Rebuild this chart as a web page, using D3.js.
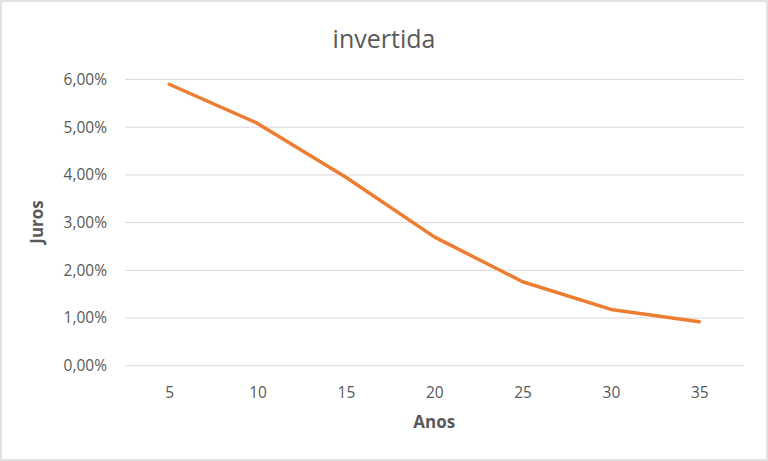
<!DOCTYPE html>
<html>
<head>
<meta charset="utf-8">
<script src="https://cdn.jsdelivr.net/npm/d3@7"></script>
<style>
  body { margin: 0; background: #fff; }
  #chart { width: 768px; height: 461px; }
  .tick text { font-family: "Open Sans", sans-serif; font-size: 15.5px; fill: #595959; }
  .axis-label { font-family: "Open Sans", sans-serif; font-size: 17px; font-weight: bold; fill: #595959; }
  .plot-title { font-family: "Open Sans", sans-serif; font-size: 25px; fill: #595959; }
</style>
</head>
<body>
<div id="chart"></div>
<script>
// data
const anos = ["5", "10", "15", "20", "25", "30", "35"];
const juros = [5.90, 5.08, 3.95, 2.70, 1.76, 1.18, 0.92];
const yTicks = [0, 1, 2, 3, 4, 5, 6];

const W = 768, H = 461;
const margin = { top: 79.5, right: 24.5, bottom: 95.3, left: 125 };
const width = W - margin.left - margin.right;
const height = H - margin.top - margin.bottom;

const root = d3.select("#chart").append("svg")
  .attr("width", W)
  .attr("height", H);

// chart border
root.append("rect")
  .attr("x", 1).attr("y", 1)
  .attr("width", W - 2).attr("height", H - 2)
  .attr("fill", "#fff")
  .attr("stroke", "#d9d9d9")
  .attr("stroke-width", 1.5);

const svg = root.append("g")
  .attr("transform", `translate(${margin.left},${margin.top})`);

const xScale = d3.scalePoint()
  .domain(anos)
  .range([0, width])
  .padding(0.5);

const yScale = d3.scaleLinear()
  .domain([0, 6])
  .range([height, 0]);

// gridlines
svg.append("g")
  .selectAll("line")
  .data(yTicks)
  .join("line")
  .attr("x1", 0)
  .attr("x2", width)
  .attr("y1", d => yScale(d))
  .attr("y2", d => yScale(d))
  .attr("stroke", "#d9d9d9")
  .attr("stroke-width", 1);

const yAxis = svg.append("g")
  .call(d3.axisLeft(yScale)
    .tickValues(yTicks)
    .tickSize(0)
    .tickPadding(18)
    .tickFormat(d => d.toFixed(2).replace(".", ",") + "%"));
yAxis.select(".domain").remove();

const xAxis = svg.append("g")
  .attr("transform", `translate(0, ${height})`)
  .call(d3.axisBottom(xScale).tickSize(0).tickPadding(21));
xAxis.select(".domain").remove();

const line = d3.line()
  .x((d, i) => xScale(anos[i]))
  .y(d => yScale(d));

svg.append("path")
  .datum(juros)
  .attr("d", line)
  .attr("fill", "none")
  .attr("stroke", "#ed7d31")
  .attr("stroke-width", 3.5)
  .attr("stroke-linejoin", "round")
  .attr("stroke-linecap", "round");

root.append("text")
  .attr("class", "plot-title")
  .attr("x", W / 2)
  .attr("y", 48)
  .attr("text-anchor", "middle")
  .text("invertida");

root.append("text")
  .attr("class", "axis-label")
  .attr("x", margin.left + width / 2)
  .attr("y", 428)
  .attr("text-anchor", "middle")
  .text("Anos");

root.append("text")
  .attr("class", "axis-label")
  .attr("transform", "rotate(-90)")
  .attr("x", -222)
  .attr("y", 43)
  .attr("text-anchor", "middle")
  .text("Juros");
</script>
</body>
</html>
